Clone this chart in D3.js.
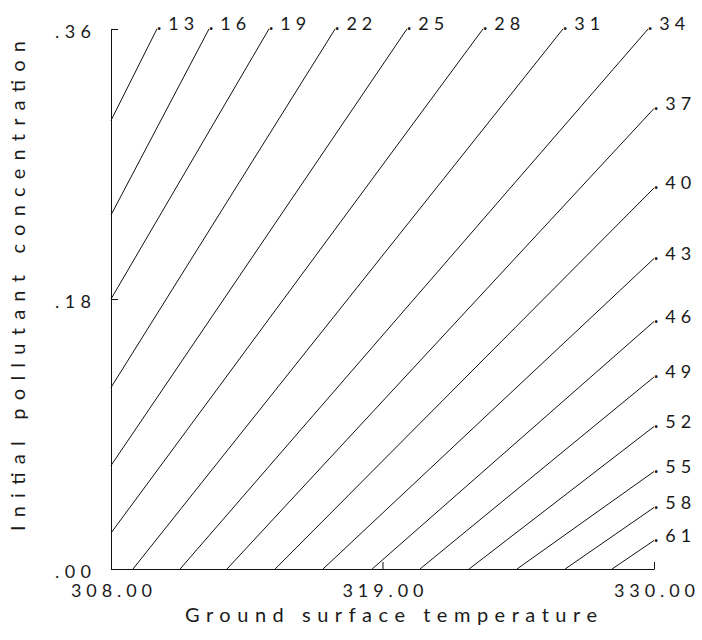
<!DOCTYPE html>
<html>
<head>
<meta charset="utf-8">
<script src="https://cdnjs.cloudflare.com/ajax/libs/d3/7.8.5/d3.min.js"></script>
<style>
  body { margin: 0; background: #fff; }
  svg text { font-family: Lato, "DejaVu Sans", sans-serif; font-weight: 400; fill: #1a1a1a; }
</style>
</head>
<body>
<svg id="chart" width="702" height="640"></svg>
<script>
// contour levels (one straight line each)
const levels = [0.13, 0.16, 0.19, 0.22, 0.25, 0.28, 0.31, 0.34, 0.37,
  0.40, 0.43, 0.46, 0.49, 0.52, 0.55, 0.58, 0.61];
// where each contour enters the frame (left axis or bottom axis)
const startT = [308, 308, 308, 308, 308, 308, 308.89, 310.80, 312.70,
  314.65, 316.59, 318.58, 320.52, 322.51, 324.45, 326.40, 328.30];
const startC = [0.299, 0.236, 0.180, 0.121, 0.069, 0.024, 0, 0, 0,
  0, 0, 0, 0, 0, 0, 0, 0];
// where it leaves (top edge or right edge), label goes here
const endT = [309.86, 311.97, 314.40, 317.08, 319.99, 323.07, 326.31, 329.76, 330,
  330, 330, 330, 330, 330, 330, 330, 330];
const endC = [0.36, 0.36, 0.36, 0.36, 0.36, 0.36, 0.36, 0.36, 0.307,
  0.254, 0.207, 0.165, 0.128, 0.095, 0.065, 0.041, 0.019];

const xTicks = [308, 319, 330];
const yTicks = [0, 0.18, 0.36];
const xTitle = "Ground surface temperature";
const yTitle = "Initial pollutant concentration";

const svg = d3.select("#chart");
const x = d3.scaleLinear().domain([308, 330]).range([111, 654]);
const y = d3.scaleLinear().domain([0, 0.36]).range([569, 29]);
const noZero = d => d3.format(".2f")(d).replace(/^0/, "");

// axes: ticks point into the plot like the old plotter output
const xAxis = svg.append("g")
  .attr("transform", "translate(0,569)")
  .call(d3.axisBottom(x).tickValues(xTicks).tickSizeInner(-7).tickSizeOuter(0)
    .tickFormat(d3.format(".2f")));
xAxis.selectAll("text")
  .attr("y", 28).attr("dy", null)
  .attr("textLength", 81).attr("lengthAdjust", "spacing")
  .style("font-size", "18px");

const yAxis = svg.append("g")
  .attr("transform", "translate(111,0)")
  .call(d3.axisLeft(y).tickValues(yTicks).tickSizeInner(-7).tickSizeOuter(0)
    .tickPadding(20).tickFormat(noZero));
yAxis.selectAll("text")
  .attr("dy", null).attr("y", 8)
  .attr("textLength", 36).attr("lengthAdjust", "spacing")
  .style("font-size", "18px");

svg.selectAll(".domain, .tick line").attr("stroke", "#111").attr("stroke-width", 1);

// contour lines
const line = d3.line().x(d => x(d[0])).y(d => y(d[1]));
const contours = levels.map((lv, i) => ({
  level: lv,
  pts: [[startT[i], startC[i]], [endT[i], endC[i]]]
}));

svg.append("g").selectAll("path")
  .data(contours)
  .join("path")
  .attr("d", d => line(d.pts))
  .attr("fill", "none")
  .attr("stroke", "#111")
  .attr("stroke-width", 1);

// labels: the decimal point sits right at the line end
const labels = svg.append("g").selectAll("text")
  .data(contours)
  .join("text")
  .attr("x", d => x(d.pts[1][0]))
  .attr("y", d => y(d.pts[1][1]) + 1)
  .style("font-size", "18px");
labels.append("tspan").style("font-weight", 700).text(".");
labels.append("tspan")
  .attr("dx", 7)
  .style("letter-spacing", "5px")
  .text(d => noZero(d.level).slice(1));

// axis titles
svg.append("text")
  .attr("x", 391).attr("y", 622)
  .attr("text-anchor", "middle")
  .attr("textLength", 412).attr("lengthAdjust", "spacing")
  .style("font-size", "20px")
  .text(xTitle);

svg.append("text")
  .attr("transform", "translate(25,286) rotate(-90)")
  .attr("text-anchor", "middle")
  .attr("textLength", 490).attr("lengthAdjust", "spacing")
  .style("font-size", "20px")
  .text(yTitle);
</script>
</body>
</html>
